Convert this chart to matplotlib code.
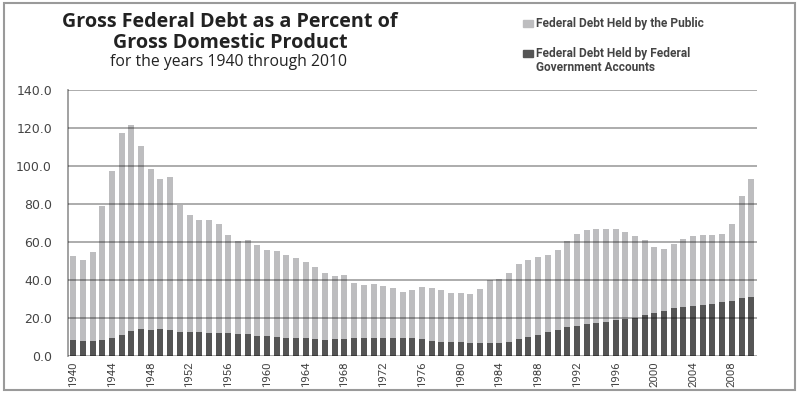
import numpy as np
import matplotlib.pyplot as plt
from matplotlib.patches import Rectangle

years = list(range(1940, 2011))

# gross debt as % of GDP (total bar height)
total = [52.4, 50.4, 54.9, 79.1, 97.6, 117.5, 121.7, 110.3, 98.2, 93.1,
         94.1, 79.7, 74.3, 71.4, 71.8, 69.3, 63.9, 60.4, 60.8, 58.6,
         56.0, 55.2, 53.4, 51.8, 49.3, 46.9, 43.5, 42.0, 42.5, 38.6,
         37.6, 37.8, 37.1, 35.6, 33.6, 34.7, 36.2, 35.8, 35.0, 33.2,
         33.4, 32.5, 35.3, 39.9, 40.7, 43.8, 48.2, 50.4, 51.9, 53.1,
         55.9, 60.7, 64.1, 66.1, 66.6, 67.0, 67.1, 65.4, 63.2, 60.9,
         57.3, 56.4, 58.8, 61.6, 62.9, 63.5, 63.9, 64.4, 69.4, 84.2,
         93.2]

# held by federal government accounts (dark part)
accounts = [8.2, 8.1, 7.9, 8.2, 9.3, 11.3, 13.0, 14.1, 13.9, 14.1,
            13.9, 12.8, 12.7, 12.8, 12.3, 12.1, 11.9, 11.8, 11.6, 10.7,
            10.4, 10.2, 9.7, 9.4, 9.3, 9.0, 8.6, 9.1, 9.2, 9.3,
            9.6, 9.7, 9.7, 9.5, 9.7, 9.4, 8.7, 8.0, 7.6, 7.6,
            7.3, 6.7, 6.6, 6.8, 6.7, 7.4, 8.7, 9.8, 10.9, 12.5,
            13.8, 15.4, 16.0, 16.8, 17.4, 17.9, 18.7, 19.5, 20.2, 21.5,
            22.6, 23.9, 25.2, 26.0, 26.1, 26.6, 27.4, 28.2, 29.1, 30.7,
            31.0]

public = [t - a for t, a in zip(total, accounts)]

light = '#bdbdbf'
dark = '#555555'

fig = plt.figure(figsize=(8.02, 3.98), dpi=100)
ax = fig.add_axes([68/802, 1 - 356/398, (757 - 68)/802, (356 - 90)/398])

ax.bar(years, accounts, width=0.62, color=dark, zorder=1)
ax.bar(years, public, width=0.62, bottom=accounts, color=light, zorder=1)

ax.set_ylim(0, 140)
ax.set_xlim(1939.45, 2010.6)
ax.set_yticks(np.arange(0, 141, 20))
ax.set_yticklabels(['%.1f' % v for v in np.arange(0, 141, 20)],
                   fontsize=9, color='#444444', family='DejaVu Sans')
ax.set_xticks(list(range(1940, 2009, 4)))
ax.set_xticklabels([str(y) for y in range(1940, 2009, 4)], rotation=90,
                   fontsize=8.2, color='#444444', family='Roboto')
ax.tick_params(length=0, axis='y', pad=11.5)
ax.tick_params(length=0, axis='x', pad=4)

ax.set_axisbelow(False)
ax.yaxis.grid(True, color='black', alpha=0.35, linewidth=1.3)
for s in ['top', 'right', 'bottom']:
    ax.spines[s].set_visible(False)
ax.spines['left'].set_color('#9a9a9a')
ax.spines['left'].set_linewidth(1.3)

# title block
fig.text(230/802, 1 - 22/398, 'Gross Federal Debt as a Percent of', ha='center', va='center',
         fontsize=14.2, fontweight='bold', family='Open Sans', color='#222222')
fig.text(230/802, 1 - 43/398, 'Gross Domestic Product', ha='center', va='center',
         fontsize=14.2, fontweight='bold', family='Open Sans', color='#222222')
fig.text(228/802, 1 - 62/398, 'for the years 1940 through 2010', ha='center', va='center',
         fontsize=11.3, family='Open Sans', color='#222222')

# legend
fig.patches.append(Rectangle((523/802, 1 - 27/398), 10/802, 7/398, color=light,
                             transform=fig.transFigure, figure=fig))
fig.patches.append(Rectangle((523/802, 1 - 57/398), 10/802, 7/398, color=dark,
                             transform=fig.transFigure, figure=fig))
fig.text(536/802, 1 - 24/398, 'Federal Debt Held by the Public', ha='left', va='center',
         fontsize=8.6, fontweight='bold', family='Roboto', color='#444444')
fig.text(536/802, 1 - 60.5/398, 'Federal Debt Held by Federal\nGovernment Accounts', ha='left',
         va='center', fontsize=8.6, fontweight='bold', family='Roboto', color='#444444',
         linespacing=1.05)

# outer frame
fig.patches.append(Rectangle((4/802, 8/398), 791/802, 387/398, fill=False,
                             edgecolor='#9a9a9a', linewidth=1.5,
                             transform=fig.transFigure, figure=fig))

fig.savefig('out.png', dpi=100, facecolor='white')
